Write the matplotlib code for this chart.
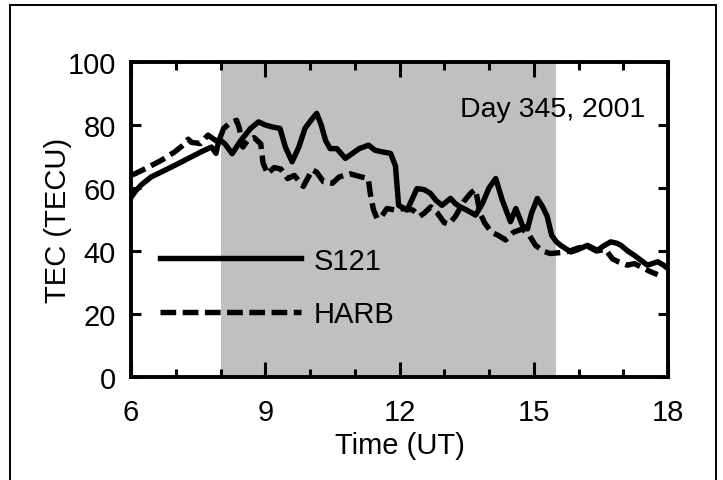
import matplotlib
matplotlib.use("Agg")
import matplotlib.pyplot as plt
from matplotlib.lines import Line2D
from matplotlib.patches import Rectangle

plt.rcParams['font.family'] = ['Liberation Sans', 'DejaVu Sans']

# ---- data ----
t_s121 = [6.0, 6.1, 6.23, 6.45, 6.68, 6.98, 7.28, 7.57, 7.8, 7.9,
          7.97, 8.1, 8.26, 8.45, 8.67, 8.85, 9.0, 9.15, 9.33, 9.45,
          9.6, 9.75, 9.89, 10.05, 10.15, 10.25, 10.35, 10.45, 10.6, 10.79,
          10.95, 11.1, 11.31, 11.45, 11.6, 11.8, 11.91, 11.98, 12.17, 12.3,
          12.39, 12.55, 12.69, 12.82, 12.95, 13.14, 13.25, 13.36, 13.5, 13.7,
          13.85, 14.0, 14.15, 14.3, 14.48, 14.6, 14.75, 14.86, 14.95, 15.08,
          15.2, 15.3, 15.4, 15.5, 15.6, 15.83, 16.0, 16.2, 16.42, 16.55,
          16.72, 16.85, 16.95, 17.1, 17.24, 17.4, 17.54, 17.65, 17.77, 17.9,
          18.0]
tec_s121 = [57, 59, 61, 63.5, 65.1, 67.2, 69.4, 71.5, 73, 71,
            75.5, 74, 70.9, 75, 78.9, 81, 80, 79.4, 78.9, 73,
            68.3, 73, 79, 82, 83.7, 80, 75, 72.5, 72.5, 69.4,
            71, 72.5, 73.6, 72, 71.5, 71, 67, 54.5, 53, 57,
            59.8, 59.5, 58.3, 56, 54.5, 56.7, 55, 54, 53, 51.4,
            55, 60, 63, 56, 49.3, 53.5, 48, 47, 52, 56.7,
            54, 51, 45, 43, 41.8, 39.7, 40.5, 41.8, 40.2, 41.5,
            42.9, 42.5, 41.8, 40, 38.7, 37, 35.5, 36, 36.6, 35.5,
            34.4]

t_harb = [6.0, 6.1, 6.33, 6.68, 6.98, 7.2, 7.28, 7.35, 7.55, 7.72,
          7.85, 7.95, 8.07, 8.2, 8.36, 8.42, 8.5, 8.6, 8.75, 8.9,
          8.95, 9.05, 9.2, 9.35, 9.5, 9.65, 9.85, 10.05, 10.15, 10.3,
          10.5, 10.65, 10.9, 11.15, 11.3, 11.35, 11.42, 11.5, 11.6, 11.72,
          11.9, 12.1, 12.3, 12.45, 12.55, 12.7, 12.85, 13.0, 13.1, 13.25,
          13.43, 13.6, 13.7, 13.8, 13.9, 14.05, 14.2, 14.37, 14.55, 14.75,
          14.9, 15.04, 15.2, 15.37, 15.6, 15.8, 16.0, 16.2, 16.4, 16.6,
          16.76, 16.9, 17.09, 17.25, 17.39, 17.6, 17.77]
tec_harb = [64, 64.6, 66.2, 68.8, 71.5, 74, 75.5, 74.5, 74.1, 76.8,
            75.5, 74.5, 78.9, 80.5, 81.5, 79, 73, 75, 76, 74,
            68, 64.5, 66.5, 66, 63, 64, 60.5, 65.8, 65, 62,
            61.5, 63.5, 64.5, 63.5, 63, 58, 53, 50.3, 51, 53.5,
            53, 53.5, 53, 51, 52, 54, 52, 49, 48.5, 51,
            55.6, 58.5, 59.5, 52, 49, 46, 45, 43.5, 46, 47,
            45, 41.8, 40, 39.2, 39.5, 40, 41, 41.5, 40, 40.5,
            37.5, 36.5, 35.5, 36, 35, 33.5, 32.5]

daytime = (8.0, 15.5)
x_ticks = [6, 9, 12, 15, 18]
y_ticks = [0, 20, 40, 60, 80, 100]
series_labels = ["S121", "HARB"]
annotation = "Day 345, 2001"

# ---- figure ----
fig = plt.figure(figsize=(7.23, 4.81), dpi=100)
ax = fig.add_axes([131/723, 1-378/481, 537/723, 315/481])

ax.axvspan(daytime[0], daytime[1], color='#c0c0c0', lw=0, zorder=0)

lw = 3.9
dash = (0, (2.9, 1.2))
ax.plot(t_s121, tec_s121, color='black', lw=lw, solid_joinstyle='round',
        solid_capstyle='round', zorder=3)
ax.plot(t_harb, tec_harb, color='black', lw=lw, linestyle=dash,
        dash_joinstyle='round', zorder=3)

ax.set_xlim(6, 18)
ax.set_ylim(0, 100)
ax.set_xticks(x_ticks)
ax.set_xticks(range(6, 19), minor=True)
ax.set_yticks(y_ticks)

fs = 21
for s in ax.spines.values():
    s.set_linewidth(2.8)
ax.tick_params(axis='both', which='both', direction='in', top=True, right=True,
               width=2.2, labelsize=fs)
ax.tick_params(axis='x', which='major', length=11, pad=15)
ax.tick_params(axis='x', which='minor', length=5.5)
ax.tick_params(axis='y', which='major', length=7, pad=11)

ax.set_xlabel("Time (UT)", fontsize=fs, labelpad=4)
ax.set_ylabel("TEC (TECU)", fontsize=fs, labelpad=-3)

ax.text(0.957, 0.829, annotation, transform=ax.transAxes, ha='right',
        va='baseline', fontsize=20.5)

handles = [Line2D([], [], color='black', lw=lw),
           Line2D([], [], color='black', lw=lw, linestyle=dash)]
ax.legend(handles, series_labels, loc='center left',
          bbox_to_anchor=(0.054, 0.284), frameon=False, fontsize=fs,
          handlelength=4.83, handletextpad=0.45, labelspacing=0.88,
          borderpad=0, borderaxespad=0)

# outer frame
fig.patches.append(Rectangle((10/723, -0.1), 706/723, 1.1 - 6/481,
                             transform=fig.transFigure, fill=False,
                             edgecolor='black', lw=1.4))

fig.savefig("out.png", dpi=100)
